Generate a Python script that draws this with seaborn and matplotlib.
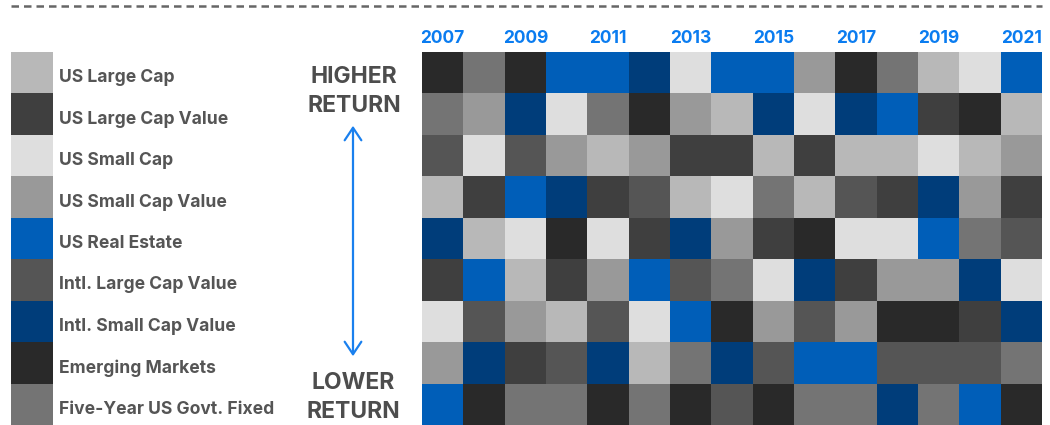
import numpy as np
import pandas as pd
import matplotlib
matplotlib.use("Agg")
import matplotlib.pyplot as plt
from matplotlib.colors import ListedColormap
from matplotlib.lines import Line2D
from matplotlib.patches import FancyArrowPatch
import seaborn as sns

# ---------------- data ----------------
asset_classes = [
    "US Large Cap", "US Large Cap Value", "US Small Cap", "US Small Cap Value",
    "US Real Estate", "Intl. Large Cap Value", "Intl. Small Cap Value",
    "Emerging Markets", "Five-Year US Govt. Fixed",
]
asset_colors = ["#b8b8b8", "#3f3f3f", "#dedede", "#999999", "#005eb8",
                "#555555", "#003d7a", "#292929", "#747474"]
codes = ["LC", "LCV", "SC", "SCV", "RE", "ILV", "ISV", "EM", "FI"]

years = [2007, 2008, 2009, 2010, 2011, 2012, 2013, 2014,
         2015, 2016, 2017, 2018, 2019, 2020, 2021]

# ranking per year, highest return first
rank_2007 = ["EM", "FI", "ILV", "LC", "ISV", "LCV", "SC", "SCV", "RE"]
rank_2008 = ["FI", "SCV", "SC", "LCV", "LC", "RE", "ILV", "ISV", "EM"]
rank_2009 = ["EM", "ISV", "ILV", "RE", "SC", "LC", "SCV", "LCV", "FI"]
rank_2010 = ["RE", "SC", "SCV", "ISV", "EM", "LCV", "LC", "ILV", "FI"]
rank_2011 = ["RE", "FI", "LC", "LCV", "SC", "SCV", "ILV", "ISV", "EM"]
rank_2012 = ["ISV", "EM", "SCV", "ILV", "LCV", "RE", "SC", "LC", "FI"]
rank_2013 = ["SC", "SCV", "LCV", "LC", "ISV", "ILV", "RE", "FI", "EM"]
rank_2014 = ["RE", "LC", "LCV", "SC", "SCV", "FI", "EM", "ISV", "ILV"]
rank_2015 = ["RE", "ISV", "LC", "FI", "LCV", "SC", "SCV", "ILV", "EM"]
rank_2016 = ["SCV", "SC", "LCV", "LC", "EM", "ISV", "ILV", "RE", "FI"]
rank_2017 = ["EM", "ISV", "LC", "ILV", "SC", "LCV", "SCV", "RE", "FI"]
rank_2018 = ["FI", "RE", "LC", "LCV", "SC", "SCV", "EM", "ILV", "ISV"]
rank_2019 = ["LC", "LCV", "SC", "ISV", "RE", "SCV", "EM", "ILV", "FI"]
rank_2020 = ["SC", "EM", "LC", "SCV", "FI", "ISV", "LCV", "ILV", "RE"]
rank_2021 = ["RE", "LC", "SCV", "LCV", "ILV", "SC", "ISV", "FI", "EM"]

rankings = [rank_2007, rank_2008, rank_2009, rank_2010, rank_2011, rank_2012,
            rank_2013, rank_2014, rank_2015, rank_2016, rank_2017, rank_2018,
            rank_2019, rank_2020, rank_2021]

year_labels = [str(y) if y % 2 == 1 else "" for y in years]

# ---------------- figure ----------------
W, H = 1050, 425
fig = plt.figure(figsize=(W / 100, H / 100), dpi=100)
fig.patch.set_facecolor("white")
plt.rcParams["font.family"] = ["Inter", "DejaVu Sans"]

def fx(px):
    return px / W

def fy(py):
    return 1 - py / H

cmap = ListedColormap(asset_colors)
matrix = pd.DataFrame(
    [[codes.index(c) for c in r] for r in rankings], index=years
).T

top_px, bot_px = 52, 425
ax = fig.add_axes([fx(422), fy(bot_px), fx(1042) - fx(422), fy(top_px) - fy(bot_px)])
sns.heatmap(matrix, ax=ax, cmap=cmap, vmin=-0.5, vmax=8.5, cbar=False,
            xticklabels=year_labels, yticklabels=False, linewidths=0)
ax.xaxis.tick_top()
ax.tick_params(axis="x", length=0, pad=3.5)
for t in ax.get_xticklabels():
    t.set_color("#0a7cf0")
    t.set_fontweight("bold")
    t.set_fontsize(12.5)
    t.set_rotation(0)
ax.set_xlabel("")
ax.set_ylabel("")

# legend swatches
lax = fig.add_axes([fx(11), fy(bot_px), fx(53) - fx(11), fy(top_px) - fy(bot_px)])
legend_df = pd.DataFrame({"asset": list(range(len(asset_classes)))})
sns.heatmap(legend_df, ax=lax, cmap=cmap, vmin=-0.5, vmax=8.5, cbar=False,
            xticklabels=False, yticklabels=False, linewidths=0)
lax.set_xlabel("")
lax.set_ylabel("")

row_h = (bot_px - top_px) / len(asset_classes)
for i, name in enumerate(asset_classes):
    yc = top_px + (i + 0.5) * row_h + 5
    fig.text(fx(59), fy(yc), name, ha="left", va="center", fontsize=12.6,
             fontweight="bold", color="#555555")

# higher / lower return
txt_kw = dict(ha="center", va="center", fontsize=16.5, fontweight="bold", color="#4d4d4d")
fig.text(fx(354), fy(77), "HIGHER", **txt_kw)
fig.text(fx(354), fy(106), "RETURN", **txt_kw)
fig.text(fx(353), fy(383), "LOWER", **txt_kw)
fig.text(fx(353), fy(412), "RETURN", **txt_kw)

arrow = FancyArrowPatch((fx(353), fy(123)), (fx(353), fy(359)),
                        transform=fig.transFigure,
                        arrowstyle="<->,head_length=0.45,head_width=0.3",
                        mutation_scale=20, color="#1a80ee", lw=1.6)
fig.add_artist(arrow)

# dashed top rule
fig.add_artist(Line2D([fx(11), fx(1042)], [fy(6), fy(6)], transform=fig.transFigure,
                      color="#666666", lw=1.8, linestyle=(0, (3.0, 2.0))))

fig.savefig("out.png", dpi=100, facecolor="white")
